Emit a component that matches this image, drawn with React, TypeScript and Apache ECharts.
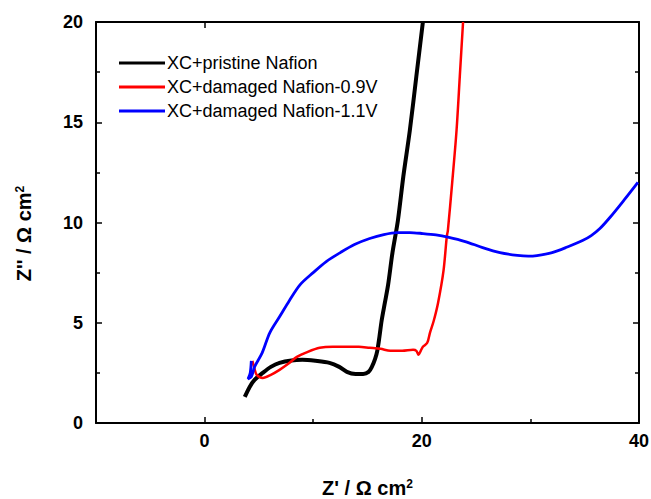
import React, { useEffect, useRef } from "react";
import * as echarts from "echarts";

const seriesNames = [
  "XC+pristine Nafion",
  "XC+damaged Nafion-0.9V",
  "XC+damaged Nafion-1.1V",
];

const pristineX = [3.7, 4.15, 4.6, 5.35, 6.1, 6.9, 8.0, 9.0, 10.2, 11.5, 12.4, 13.1, 13.9, 14.6, 15.1, 15.4, 15.7, 15.9, 16.1, 16.3, 16.6, 16.9, 17.3, 17.8, 18.3, 18.9, 19.5, 20.1];
const pristineY = [1.3, 1.8, 2.15, 2.5, 2.8, 3.0, 3.12, 3.15, 3.1, 3.0, 2.8, 2.55, 2.45, 2.45, 2.55, 2.8, 3.2, 3.6, 4.3, 5.1, 6.0, 6.9, 8.5, 10.1, 12.3, 14.6, 17.3, 20.0];

const damaged09X = [4.4, 4.6, 4.8, 5.35, 6.1, 6.9, 7.7, 8.5, 9.5, 10.6, 11.8, 13.1, 14.2, 15.2, 16.2, 17.1, 18.2, 19.2, 19.5, 19.7, 19.9, 20.1, 20.5, 20.75, 21.1, 21.5, 22.0, 22.3, 22.4, 22.8, 23.2, 23.5, 23.8];
const damaged09Y = [3.1, 2.7, 2.4, 2.25, 2.4, 2.65, 2.95, 3.3, 3.55, 3.75, 3.8, 3.8, 3.8, 3.75, 3.7, 3.6, 3.6, 3.65, 3.6, 3.4, 3.6, 3.8, 4.0, 4.5, 5.1, 6.0, 7.6, 9.3, 9.6, 12.0, 14.6, 17.3, 20.0];

const damaged11X = [4.3, 4.2, 4.0, 4.3, 4.6, 5.3, 6.0, 6.9, 7.8, 8.8, 10.0, 11.2, 12.5, 13.8, 15.2, 16.5, 17.7, 18.9, 20.1, 21.3, 22.4, 24.0, 25.6, 27.2, 28.8, 29.8, 30.6, 32.0, 33.4, 34.8, 35.6, 36.4, 37.4, 38.6, 39.9];
const damaged11Y = [3.1, 2.5, 2.2, 2.3, 2.8, 3.5, 4.5, 5.3, 6.1, 6.9, 7.5, 8.05, 8.5, 8.9, 9.2, 9.4, 9.5, 9.5, 9.45, 9.38, 9.27, 9.05, 8.75, 8.5, 8.36, 8.32, 8.35, 8.5, 8.78, 9.1, 9.35, 9.7, 10.3, 11.1, 12.0];

const xMajorTicks = [0, 20, 40];
const xMinorTicks = [10, 30];

const colors = ["#000000", "#ff0000", "#0000ff"];
const widths = [4, 2.5, 2.8];

const pair = (xs: number[], ys: number[]) => xs.map((x, i) => [x, ys[i]]);

const FONT = "'Liberation Sans', Arial, sans-serif";

export default function App() {
  const ref = useRef<HTMLDivElement>(null);

  useEffect(() => {
    if (!ref.current) return;
    const chart = echarts.init(ref.current, undefined, { renderer: "svg" });
    const lineAxis = { show: true, onZero: false, lineStyle: { color: "#000", width: 2 } };
    const supStyle = { fontFamily: FONT, fontSize: 12, fontWeight: "bold", color: "#000", verticalAlign: "top" };
    const data = [
      pair(pristineX, pristineY),
      pair(damaged09X, damaged09Y),
      pair(damaged11X, damaged11Y),
    ];
    const option: any = {
      animation: false,
      backgroundColor: "#ffffff",
      grid: { left: 96, right: 12, top: 22, bottom: 76, containLabel: false, outerBoundsMode: "none" },
      legend: {
        orient: "vertical",
        left: 119,
        top: 54,
        padding: 0,
        icon: "rect",
        itemWidth: 46,
        itemHeight: 3,
        itemGap: 6,
        data: seriesNames,
        textStyle: { fontFamily: FONT, fontSize: 18, color: "#000", lineHeight: 18, padding: [0, 0, 0, -3] },
      },
      xAxis: [
        {
          type: "value",
          min: -10,
          max: 40,
          position: "bottom",
          axisLine: lineAxis,
          axisTick: { show: true, inside: true, length: 6, customValues: xMajorTicks, lineStyle: { color: "#000", width: 1.5 } },
          axisLabel: { customValues: xMajorTicks, fontFamily: FONT, fontWeight: "bold", fontSize: 18, color: "#000", margin: 9 },
          splitLine: { show: false },
          name: "Z' / Ω cm{sup|2}",
          nameLocation: "middle",
          nameGap: 55,
          nameTextStyle: {
            fontFamily: FONT,
            fontWeight: "bold",
            fontSize: 20,
            color: "#000",
            rich: { sup: supStyle },
          },
        },
        {
          type: "value",
          min: -10,
          max: 40,
          position: "bottom",
          axisLine: { show: false },
          axisTick: { show: true, inside: true, length: 4, customValues: xMinorTicks, lineStyle: { color: "#000", width: 1.5 } },
          axisLabel: { show: false },
          splitLine: { show: false },
        },
        {
          type: "value",
          min: -10,
          max: 40,
          position: "top",
          axisLine: lineAxis,
          axisTick: { show: true, inside: true, length: 6, customValues: xMajorTicks, lineStyle: { color: "#000", width: 1.5 } },
          axisLabel: { show: false },
          splitLine: { show: false },
        },
      ],
      yAxis: [
        {
          type: "value",
          min: 0,
          max: 20,
          interval: 5,
          position: "left",
          axisLine: lineAxis,
          axisTick: { show: true, inside: true, length: 6, lineStyle: { color: "#000", width: 1.5 } },
          minorTick: { show: true, splitNumber: 2, length: 4, lineStyle: { color: "#000", width: 1.5 } },
          axisLabel: { fontFamily: FONT, fontWeight: "bold", fontSize: 18, color: "#000", margin: 13 },
          splitLine: { show: false },
          name: "Z'' / Ω cm{sup|2}",
          nameLocation: "middle",
          nameGap: 62,
          nameTextStyle: {
            fontFamily: FONT,
            fontWeight: "bold",
            fontSize: 20,
            color: "#000",
            padding: [0, 22, 0, 0],
            rich: { sup: supStyle },
          },
        },
        {
          type: "value",
          min: 0,
          max: 20,
          interval: 5,
          position: "right",
          axisLine: lineAxis,
          axisTick: { show: true, inside: true, length: 6, lineStyle: { color: "#000", width: 1.5 } },
          minorTick: { show: true, splitNumber: 2, length: 4, lineStyle: { color: "#000", width: 1.5 } },
          axisLabel: { show: false },
          splitLine: { show: false },
        },
      ],
      series: seriesNames.map((name, i) => ({
        name,
        type: "line",
        data: data[i],
        xAxisIndex: 0,
        yAxisIndex: 0,
        showSymbol: false,
        symbol: "none",
        smooth: 0.3,
        clip: true,
        color: colors[i],
        lineStyle: { color: colors[i], width: widths[i] },
      })),
    };
    chart.setOption(option);
    return () => chart.dispose();
  }, []);

  return (
    <div
      ref={ref}
      style={{ position: "fixed", left: 0, top: 0, width: 651, height: 499, background: "#fff" }}
    />
  );
}
